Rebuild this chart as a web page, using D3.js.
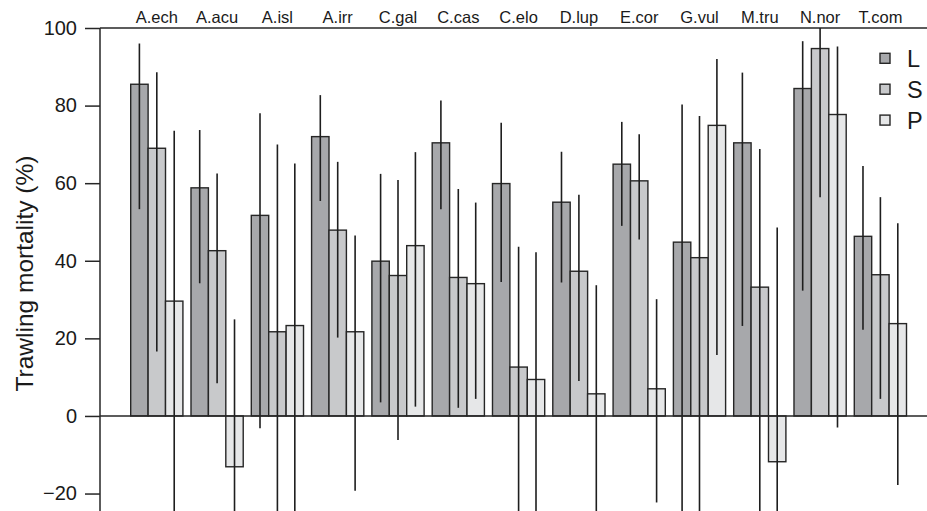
<!DOCTYPE html>
<html>
<head>
<meta charset="utf-8">
<script src="https://cdn.jsdelivr.net/npm/d3@7"></script>
<style>
  html, body { margin: 0; padding: 0; background: #fff; }
  svg { display: block; font-family: "Liberation Sans", Arial, Helvetica, sans-serif; }
</style>
</head>
<body>
<svg id="chart" width="927" height="511"></svg>
<script>
// Species codes along the top
const species = ["A.ech", "A.acu", "A.isl", "A.irr", "C.gal", "C.cas", "C.elo",
                 "D.lup", "E.cor", "G.vul", "M.tru", "N.nor", "T.com"];
// Size classes
const sizeClasses = ["L", "S", "P"];

// Mean trawling mortality (%) per species for each size class
const meanL = [85.5, 58.8, 51.7, 72.0, 39.9, 70.4, 59.9, 55.1, 64.9, 44.8, 70.4, 84.4, 46.3];
const meanS = [69.0, 42.6, 21.7, 47.9, 36.2, 35.7, 12.6, 37.3, 60.6, 40.8, 33.2, 94.7, 36.4];
const meanP = [29.6, -13.1, 23.3, 21.7, 43.9, 34.1, 9.4, 5.7, 7.0, 74.9, -11.8, 77.7, 23.8];

// Lower / upper limits of the intervals (lower limits below the axis end are cut off)
const lowL = [53.3, 34.2, -3.2, 55.4, 3.5, 53.3, 34.5, 34.4, 49.0, -30, 23.2, 32.3, 22.2];
const highL = [96.0, 73.7, 78.0, 82.7, 62.4, 81.3, 75.6, 68.1, 75.8, 80.3, 88.5, 96.6, 64.4];
const lowS = [16.6, 8.4, -30, 20.2, -6.2, 2.1, -30, 9.0, 45.5, -30, -30, 56.4, 4.4];
const highS = [88.6, 62.5, 70.0, 65.5, 60.8, 58.5, 43.6, 57.0, 72.6, 77.3, 68.8, 100, 56.4];
const lowP = [-30, -30, -30, -19.3, 2.4, 4.4, -30, -30, -22.3, 15.7, -30, -3.0, -17.8];
const highP = [73.5, 24.9, 65.1, 46.5, 68.0, 55.0, 42.2, 33.7, 30.1, 92.0, 48.6, 95.2, 49.7];

// Y axis tick values
const yTicks = [-20, 0, 20, 40, 60, 80, 100];

const fills = { L: "#a7a8ab", S: "#c8c9cb", P: "#e6e7e8" };
const stroke = "#262626";

const means = { L: meanL, S: meanS, P: meanP };
const lows = { L: lowL, S: lowS, P: lowP };
const highs = { L: highL, S: highS, P: highP };

const rows = [];
species.forEach((sp, i) => {
  sizeClasses.forEach(k => {
    rows.push({ sp, k, v: means[k][i], lo: lows[k][i], hi: highs[k][i] });
  });
});

const svg = d3.select("#chart");
const W = 927, H = 511;
const axisX = 100;
const plotTop = 28;

const x = d3.scaleBand().domain(species).range([130.7, 906.5]).paddingInner(0.134).paddingOuter(0);
const xs = d3.scaleBand().domain(sizeClasses).range([0, x.bandwidth()]).padding(0);
const y = d3.scaleLinear().domain([-24.5, 100]).range([H, plotTop]);

svg.append("defs").append("clipPath").attr("id", "plotClip")
  .append("rect").attr("x", axisX).attr("y", plotTop).attr("width", W - axisX).attr("height", H - plotTop);

// Frame lines: top border and zero line
svg.append("line").attr("x1", axisX).attr("x2", W).attr("y1", y(100)).attr("y2", y(100))
  .attr("stroke", stroke).attr("stroke-width", 1.5);

const plot = svg.append("g").attr("clip-path", "url(#plotClip)");

// Bars
plot.selectAll("rect.bar").data(rows).join("rect")
  .attr("class", "bar")
  .attr("x", d => x(d.sp) + xs(d.k))
  .attr("width", xs.bandwidth())
  .attr("y", d => Math.min(y(d.v), y(0)))
  .attr("height", d => Math.abs(y(d.v) - y(0)))
  .attr("fill", d => fills[d.k])
  .attr("stroke", stroke)
  .attr("stroke-width", 1.4);

svg.append("line").attr("x1", axisX).attr("x2", W).attr("y1", y(0)).attr("y2", y(0))
  .attr("stroke", stroke).attr("stroke-width", 1.4);

// Interval lines
plot.selectAll("line.err").data(rows).join("line")
  .attr("class", "err")
  .attr("x1", d => x(d.sp) + xs(d.k) + xs.bandwidth() / 2)
  .attr("x2", d => x(d.sp) + xs(d.k) + xs.bandwidth() / 2)
  .attr("y1", d => y(d.lo))
  .attr("y2", d => y(d.hi))
  .attr("stroke", "#1e1e1e")
  .attr("stroke-width", 1.6);

// Left axis
const yAxis = d3.axisLeft(y).tickValues(yTicks).tickSize(15).tickPadding(8).tickFormat(d3.format("d"));
const gy = svg.append("g").attr("transform", `translate(${axisX},0)`).call(yAxis);
gy.select(".domain").remove();
gy.selectAll(".tick line").attr("stroke", stroke).attr("stroke-width", 1.5);
gy.selectAll(".tick text").attr("font-size", 20).attr("fill", "#1a1a1a")
  .attr("font-family", "'Liberation Sans', Arial, sans-serif");
svg.append("line").attr("x1", axisX).attr("x2", axisX).attr("y1", plotTop).attr("y2", H)
  .attr("stroke", stroke).attr("stroke-width", 1.5);

// Species labels along the top
svg.append("g").selectAll("text").data(species).join("text")
  .attr("x", d => x(d) + x.bandwidth() / 2)
  .attr("y", 22.5)
  .attr("text-anchor", "middle")
  .attr("font-size", 16.5)
  .attr("fill", "#1a1a1a")
  .text(d => d);

// Y axis title
svg.append("text")
  .attr("transform", `translate(33,${(152 + 395) / 2}) rotate(-90)`)
  .attr("text-anchor", "middle")
  .attr("font-size", 24.5)
  .attr("fill", "#1a1a1a")
  .text("Trawling mortality (%)");

// Legend
const legend = svg.append("g").selectAll("g").data(sizeClasses).join("g")
  .attr("transform", (d, i) => `translate(880,${58.3 + i * 30.9})`);
legend.append("rect")
  .attr("x", 0).attr("y", -5).attr("width", 10).attr("height", 10)
  .attr("fill", d => fills[d]).attr("stroke", stroke).attr("stroke-width", 1.4);
legend.append("text")
  .attr("x", 27).attr("y", 8.5)
  .attr("font-size", 23.5)
  .attr("fill", "#1a1a1a")
  .text(d => d);
</script>
</body>
</html>
